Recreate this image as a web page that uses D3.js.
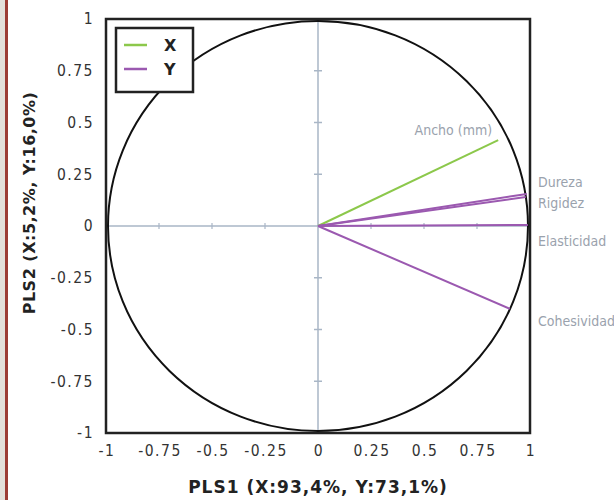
<!DOCTYPE html>
<html>
<head>
<meta charset="utf-8">
<script src="https://cdn.jsdelivr.net/npm/d3@7"></script>
<style>
  body { margin: 0; background: #fff; }
  svg { display: block; }
</style>
</head>
<body>
<svg width="614" height="500"></svg>
<script>
// loadings
const variables = ["Ancho (mm)", "Dureza", "Rigidez", "Elasticidad", "Cohesividad"];
const blocks = ["X", "Y", "Y", "Y", "Y"];
const pls1 = [0.85, 0.985, 0.98, 0.99, 0.905];
const pls2 = [0.415, 0.155, 0.14, 0.005, -0.40];
const tickValues = [-1, -0.75, -0.5, -0.25, 0, 0.25, 0.5, 0.75, 1];
const legendKeys = ["X", "Y"];

const svg = d3.select("svg");

// page edge strip
svg.append("rect").attr("x", 0).attr("y", 0).attr("width", 5).attr("height", 500).attr("fill", "#e3e0da");
svg.append("rect").attr("x", 5).attr("y", 0).attr("width", 3).attr("height", 500).attr("fill", "#9c3d35");

var x = d3.scaleLinear().domain([-1, 1]).range([106, 530]);
var y = d3.scaleLinear().domain([-1, 1]).range([433, 19]);

let color = d3.scaleOrdinal().domain(legendKeys).range(["#8cc84b", "#9b59b0"]);

var g = svg.append("g");

// zero lines
g.append("line")
    .attr("x1", x(-1)).attr("x2", x(1))
    .attr("y1", y(0)).attr("y2", y(0))
    .attr("stroke", "#a9b6c6").attr("stroke-width", 1.5);
g.append("line")
    .attr("x1", x(0)).attr("x2", x(0))
    .attr("y1", y(-1)).attr("y2", y(1))
    .attr("stroke", "#a9b6c6").attr("stroke-width", 1.5);

// small ticks on the zero lines
let inner = tickValues.filter(d => d != 0 && Math.abs(d) != 1);
g.selectAll(".tx").data(inner).join("line")
    .attr("x1", d => x(d)).attr("x2", d => x(d))
    .attr("y1", y(0) - 3).attr("y2", y(0) + 3)
    .attr("stroke", "#a9b6c6").attr("stroke-width", 1.2);
g.selectAll(".ty").data(inner).join("line")
    .attr("x1", x(0) - 4).attr("x2", x(0) + 4)
    .attr("y1", d => y(d)).attr("y2", d => y(d))
    .attr("stroke", "#a9b6c6").attr("stroke-width", 1.5);

// correlation circle
g.append("ellipse")
    .attr("cx", x(0)).attr("cy", y(0))
    .attr("rx", x(1) - x(0) - 2).attr("ry", y(0) - y(1) - 2)
    .attr("fill", "none").attr("stroke", "#111").attr("stroke-width", 2);

// vectors
let idx = d3.range(variables.length);
g.selectAll(".vec").data(idx).join("line")
    .attr("x1", x(0)).attr("y1", y(0))
    .attr("x2", i => x(pls1[i])).attr("y2", i => y(pls2[i]))
    .attr("stroke", i => color(blocks[i]))
    .attr("stroke-width", 2);

// vector labels
let nudge = { "Ancho (mm)": [-6, -10, "end"], "Dureza": [8, -12, "start"], "Rigidez": [8, 6, "start"],
    "Elasticidad": [8, 16, "start"], "Cohesividad": [8, 12, "start"] };
g.selectAll(".lab").data(idx).join("text")
    .attr("x", i => (nudge[variables[i]][2] == "start" ? x(1) : x(pls1[i])) + nudge[variables[i]][0])
    .attr("y", i => y(pls2[i]) + nudge[variables[i]][1])
    .attr("dy", "0.35em")
    .attr("text-anchor", i => nudge[variables[i]][2])
    .attr("font-family", "'DejaVu Sans Condensed', sans-serif")
    .attr("font-stretch", "condensed")
    .attr("font-size", 14)
    .attr("fill", "#9aa2ad")
    .text(i => variables[i]);

// frame
g.append("rect")
    .attr("x", x(-1)).attr("y", y(1))
    .attr("width", x(1) - x(-1)).attr("height", y(-1) - y(1))
    .attr("fill", "none").attr("stroke", "#222").attr("stroke-width", 2.5);

// tick labels
const fmt = d => String(d);
svg.selectAll(".xl").data(tickValues).join("text")
    .attr("x", d => x(d) + 1).attr("y", 456)
    .attr("text-anchor", "middle")
    .attr("font-family", "'DejaVu Sans Condensed', sans-serif")
    .attr("font-size", 15.5)
    .attr("letter-spacing", 1.5)
    .attr("fill", "#333")
    .text(fmt);
svg.selectAll(".yl").data(tickValues).join("text")
    .attr("x", 94).attr("y", d => y(d)).attr("dy", "0.35em")
    .attr("text-anchor", "end")
    .attr("font-family", "'DejaVu Sans Condensed', sans-serif")
    .attr("font-size", 15.5)
    .attr("letter-spacing", 1.5)
    .attr("fill", "#333")
    .text(fmt);

// axis titles
svg.append("text")
    .attr("x", x(0)).attr("y", 493)
    .attr("text-anchor", "middle")
    .attr("font-family", "'DejaVu Sans', sans-serif")
    .attr("font-weight", "bold").attr("font-size", 17)
    .attr("letter-spacing", 1)
    .attr("fill", "#222")
    .text("PLS1 (X:93,4%, Y:73,1%)");
svg.append("text")
    .attr("transform", "translate(35," + 203 + ") rotate(-90)")
    .attr("text-anchor", "middle")
    .attr("font-family", "'DejaVu Sans', sans-serif")
    .attr("font-weight", "bold").attr("font-size", 16)
    .attr("letter-spacing", 0.5)
    .attr("fill", "#222")
    .text("PLS2 (X:5,2%, Y:16,0%)");

// legend
var leg = svg.append("g").attr("transform", "translate(116,28)");
leg.append("rect").attr("width", 77).attr("height", 64)
    .attr("fill", "#fff").attr("stroke", "#222").attr("stroke-width", 2.5);
var items = leg.selectAll(".it").data(legendKeys).join("g")
    .attr("transform", (d, i) => "translate(0," + (17 + i * 24) + ")");
items.append("line").attr("x1", 8).attr("x2", 31)
    .attr("stroke", d => color(d)).attr("stroke-width", 2.5);
items.append("text").attr("x", 48).attr("dy", "0.35em")
    .attr("font-family", "'DejaVu Sans', sans-serif")
    .attr("font-weight", "bold").attr("font-size", 16)
    .attr("fill", "#222")
    .text(d => d);
</script>
</body>
</html>
